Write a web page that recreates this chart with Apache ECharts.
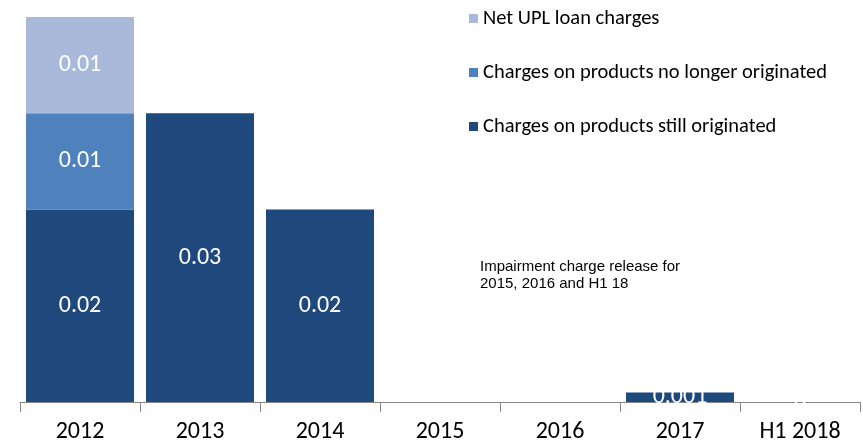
<!DOCTYPE html>
<html>
<head>
<meta charset="utf-8">
<script src="https://cdn.jsdelivr.net/npm/echarts@6/dist/echarts.min.js"></script>
<style>
  html, body { margin: 0; padding: 0; background: #fff; }
  #chart { width: 863px; height: 445px; }
</style>
</head>
<body>
<div id="chart"></div>
<script>
// Impairment charges by period (stacked)
const categories = ['2012', '2013', '2014', '2015', '2016', '2017', 'H1 2018'];
const stillOriginated = [0.02, 0.03, 0.02, null, null, 0.001, 0];
const noLongerOriginated = [0.01, null, null, null, null, null, null];
const netUplCharges = [0.01, null, null, null, null, null, null];
const seriesNames = [
  'Charges on products still originated',
  'Charges on products no longer originated',
  'Net UPL loan charges'
];
const noteText = 'Impairment charge release for\n2015, 2016 and H1 18';

const colors = ['#1F497D', '#4F81BD', '#A9B9D9'];
const labelFont = "Carlito, 'Open Sans', 'Liberation Sans', sans-serif";

function fmt(v) {
  if (v === null || v === undefined) return '';
  return String(v);
}

function makeSeries(name, data, color) {
  return {
    name: name,
    type: 'bar',
    stack: 'total',
    barCategoryGap: '10%',
    data: data,
    itemStyle: { color: color },
    label: {
      show: true,
      position: 'inside',
      color: '#fff',
      fontSize: 24,
      fontFamily: labelFont,
      formatter: p => fmt(p.value)
    },
    emphasis: { disabled: true }
  };
}

const chart = echarts.init(document.getElementById('chart'), null, { renderer: 'canvas' });
chart.setOption({
  animation: false,
  grid: { left: 20, right: 3, top: 17, bottom: 43, containLabel: false },
  legend: {
    orient: 'vertical',
    left: 464,
    top: 3,
    itemWidth: 9,
    itemHeight: 9,
    itemGap: 33,
    icon: 'rect',
    data: [seriesNames[2], seriesNames[1], seriesNames[0]],
    textStyle: { fontSize: 20.5, color: '#000', fontFamily: labelFont }
  },
  xAxis: {
    type: 'category',
    data: categories,
    axisLine: { lineStyle: { color: '#868686', width: 1 } },
    axisTick: { show: true, length: 10, lineStyle: { color: '#868686' } },
    axisLabel: { fontSize: 24, color: '#000', fontFamily: labelFont, margin: 18 }
  },
  yAxis: {
    type: 'value',
    min: 0,
    max: 0.04,
    show: false,
    splitLine: { show: false }
  },
  graphic: [{
    type: 'text',
    left: 480,
    top: 258,
    style: {
      text: noteText,
      fontSize: 15,
      lineHeight: 17,
      fill: '#000',
      fontFamily: "'Liberation Sans', Arial, sans-serif"
    }
  }],
  series: [
    makeSeries(seriesNames[0], stillOriginated, colors[0]),
    makeSeries(seriesNames[1], noLongerOriginated, colors[1]),
    makeSeries(seriesNames[2], netUplCharges, colors[2])
  ]
});
</script>
</body>
</html>
